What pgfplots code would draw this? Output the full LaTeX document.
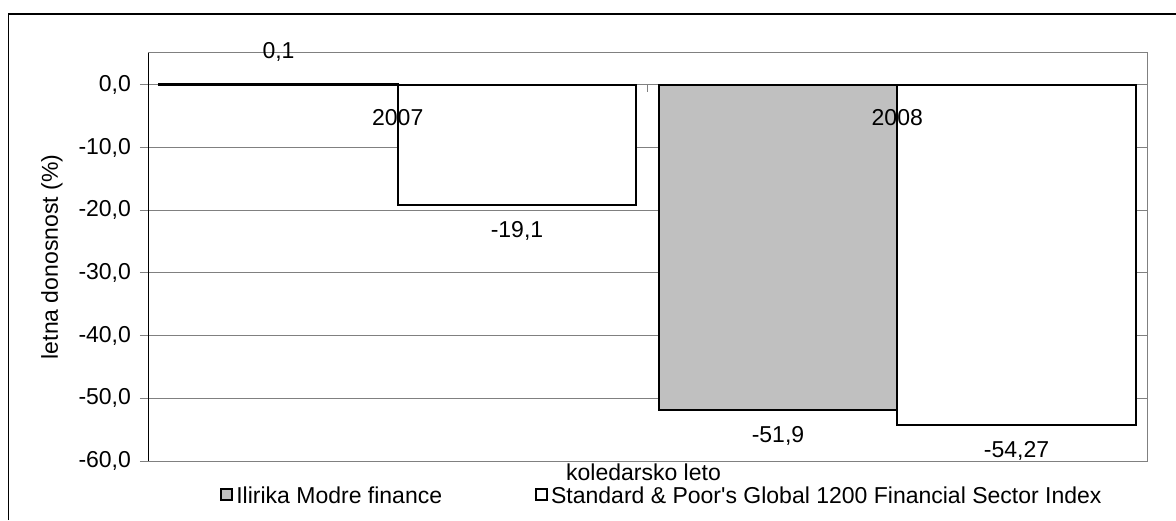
\documentclass[border=0pt]{standalone}
\usepackage{pgfplots}
\pgfplotsset{compat=1.18}
\usepackage{fontspec}
\setmainfont{Liberation Sans}
\newcommand\fs{\fontsize{11.5pt}{13.8pt}\selectfont}
\definecolor{barsilver}{RGB}{192,192,192}
\definecolor{gridgray}{RGB}{128,128,128}
\begin{document}
\begin{tikzpicture}[font=\fs]
\path[use as bounding box] (0,0) rectangle (588pt,260pt);
\draw[line width=0.75pt] (4.25pt,0) -- (4.25pt,253pt) -- (588pt,253pt);
\begin{axis}[
  at={(74pt,29.5pt)}, anchor=south west,
  scale only axis, width=499.5pt, height=204pt,
  xmin=-0.5, xmax=1.5, ymin=-60, ymax=5.1,
  ybar=0pt, bar width=119.25pt,
  xtick=\empty,
  ytick={-60,-50,-40,-30,-20,-10,0},
  yticklabels={{-60,0},{-50,0},{-40,0},{-30,0},{-20,0},{-10,0},{0,0}},
  ymajorgrids, grid style={gridgray, line width=0.5pt},
  tick align=outside, major tick length=4pt,
  ytick pos=left,
  tick style={gridgray, line width=0.5pt},
  axis line style={gridgray, line width=0.5pt},
  tick label style={font=\fs},
  yticklabel style={xshift=-1pt},
  ylabel={letna donosnost (\%)},
  ylabel style={at={(axis description cs:-0.0961,0.5)}, anchor=center, font=\fs},
  xlabel={koledarsko leto},
  xlabel style={at={(axis description cs:0.496,0)}, anchor=north, inner sep=0pt, yshift=-1.2pt, font=\fs},
  nodes near coords, point meta=explicit symbolic,
  visualization depends on={rawy \as \rawy},
  nodes near coords style={font=\fs, anchor=center, inner sep=0pt,
    yshift={(\rawy<0)*(-29pt)+16pt}},
  legend columns=2,
  legend style={draw=none, fill=none, at={(axis description cs:0.066,-0.087)}, anchor=west, font=\fs,
    nodes={inner sep=0pt, inner xsep=1.5pt},
    /tikz/every even column/.append style={column sep=45pt}},
]
\addplot[fill=barsilver, draw=black, line width=1pt,
  legend image code/.code={\draw[fill=barsilver, draw=black, line width=1pt] (0pt,-1.5pt) rectangle (5.5pt,4pt);}]
  coordinates {(0,0.1) [0,1] (1,-51.9) [-51,9]};
\addlegendentry{Ilirika Modre finance}
\addplot[fill=white, draw=black, line width=1pt,
  legend image code/.code={\draw[fill=white, draw=black, line width=1pt] (0pt,-1.5pt) rectangle (5.5pt,4pt);}]
  coordinates {(0,-19.1) [-19,1] (1,-54.27) [-54,27]};
\addlegendentry{Standard \& Poor\textquotesingle s Global 1200 Financial Sector Index}
\draw[black, line width=0.6pt] (rel axis cs:0,0) -- (rel axis cs:0,1);
\draw[gridgray, line width=0.5pt] (axis cs:0.5,0) -- ([yshift=-3.5pt]axis cs:0.5,0);
\node[anchor=center, yshift=-16.5pt] at (axis cs:0,0) {2007};
\node[anchor=center, yshift=-16.5pt] at (axis cs:1,0) {2008};
\end{axis}
\end{tikzpicture}
\end{document}
